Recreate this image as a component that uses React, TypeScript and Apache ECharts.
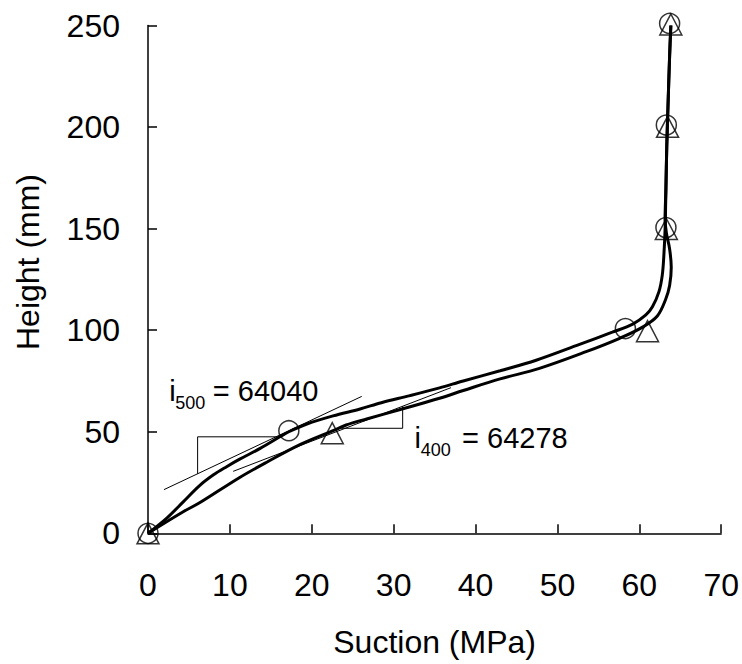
import { useEffect, useRef } from "react";
import * as echarts from "echarts";

const FONT = '"Liberation Sans", Arial, Helvetica, sans-serif';

// Smoothed profile curves (suction MPa, height mm)
const curveASuction = [0, 2.3, 4.3, 6.3, 8.0, 9.6, 11.2, 13.7, 16.1, 17.2, 19.4, 22.6, 25.9, 28.5, 32.0, 35.6, 38.5, 43.0, 47.4, 52.7, 56.7, 59.2, 60.8, 61.6, 62.4, 62.8, 63.0, 63.15, 63.25, 63.35, 63.5, 63.7, 63.85];
const curveAHeight = [0, 7.5, 15.5, 23.5, 28.8, 32.8, 36.5, 41.8, 47.5, 50.0, 53.8, 57.8, 61.2, 64.3, 67.8, 71.6, 75.0, 80.0, 85.2, 93.0, 99.0, 103.0, 107.5, 111.5, 119.0, 127.0, 137.0, 150.0, 170.0, 190.0, 210.0, 235.0, 250.0];

const curveBSuction = [0, 4.3, 6.3, 11.2, 14.5, 18.5, 22.6, 24.2, 26.7, 30.7, 35.6, 38.5, 43.0, 47.8, 53.5, 57.6, 60.4, 62.2, 63.2, 63.7, 63.9, 63.7, 63.3, 63.15, 63.25, 63.35, 63.5, 63.7, 63.85];
const curveBHeight = [0, 10.6, 15.0, 27.5, 35.0, 43.5, 50.5, 53.3, 56.3, 60.8, 66.5, 70.3, 76.0, 81.2, 89.4, 96.0, 101.5, 107.0, 115.0, 122.0, 131.0, 140.0, 148.0, 155.0, 170.0, 190.0, 210.0, 235.0, 250.0];

// Measured points
const circleSuction = [0, 17.2, 58.3, 63.25, 63.3, 63.7];
const circleHeight = [0, 50.5, 100.8, 150.5, 201.0, 251.0];
const triangleSuction = [0, 22.5, 61.0, 63.3, 63.45, 63.85];
const triangleHeight = [0, 49.3, 99.5, 149.8, 200.1, 250.5];

// Tangent lines and slope brackets
const tangentASuction = [1.95, 26.1];
const tangentAHeight = [21.5, 67.4];
const bracketASuction = [6.06, 6.06, 16.1];
const bracketAHeight = [29.3, 47.5, 47.5];
const tangentBSuction = [10.4, 37.0];
const tangentBHeight = [30.5, 71.7];
const bracketBSuction = [31.1, 31.1, 23.6];
const bracketBHeight = [62.6, 51.7, 51.7];

// Annotation labels: main symbol, subscript, rest; anchor (data coords of baseline-left)
const labelA = { main: "i", sub: "500", rest: "= 64040", at: [2.6, 65.3], subDx: 6.0, restDx: 43.5 };
const labelB = { main: "i", sub: "400", rest: "= 64278", at: [32.55, 41.8], subDx: 6.3, restDx: 47.5 };

const xMin = 0, xMax = 70, xStep = 10;
const yMin = 0, yMax = 250, yStep = 50;

const zip = (a: number[], b: number[]) => a.map((v, i) => [v, b[i]]);

export default function App() {
  const ref = useRef<HTMLDivElement>(null);
  useEffect(() => {
    if (!ref.current) return;
    const chart = echarts.init(ref.current, undefined, { renderer: "svg" });
    const thin = { color: "#000", width: 1 };
    const option: any = {
      animation: false,
      backgroundColor: "#fff",
      grid: { left: 148, right: 20, top: 25.5, bottom: 130.7, containLabel: false },
      xAxis: {
        type: "value", min: xMin, max: xMax, interval: xStep,
        axisLine: { show: true, onZero: false, lineStyle: { color: "#000", width: 1.5 } },
        axisTick: { show: true, inside: true, length: 9, lineStyle: { color: "#000", width: 1.5 } },
        axisLabel: { color: "#000", fontFamily: FONT, fontSize: 32, margin: 36 },
        splitLine: { show: false },
        name: "Suction (MPa)", nameLocation: "middle", nameGap: 93,
        nameTextStyle: { color: "#000", fontFamily: FONT, fontSize: 32 },
      },
      yAxis: {
        type: "value", min: yMin, max: yMax, interval: yStep,
        axisLine: { show: true, onZero: false, lineStyle: { color: "#000", width: 1.5 } },
        axisTick: { show: true, inside: true, length: 9, lineStyle: { color: "#000", width: 1.5 } },
        axisLabel: { color: "#000", fontFamily: FONT, fontSize: 32, margin: 28 },
        splitLine: { show: false },
      },
      series: [
        { type: "line", data: zip(curveASuction, curveAHeight), smooth: 0.35, showSymbol: false, clip: false, lineStyle: { color: "#000", width: 3 }, z: 3 },
        { type: "line", data: zip(curveBSuction, curveBHeight), smooth: 0.35, showSymbol: false, clip: false, lineStyle: { color: "#000", width: 3 }, z: 3 },
        { type: "line", data: zip(tangentASuction, tangentAHeight), showSymbol: false, lineStyle: thin, z: 2 },
        { type: "line", data: zip(bracketASuction, bracketAHeight), showSymbol: false, lineStyle: thin, z: 2 },
        { type: "line", data: zip(tangentBSuction, tangentBHeight), showSymbol: false, lineStyle: thin, z: 2 },
        { type: "line", data: zip(bracketBSuction, bracketBHeight), showSymbol: false, lineStyle: thin, z: 2 },
        { type: "scatter", data: zip(circleSuction, circleHeight), symbol: "circle", symbolSize: 20, clip: false,
          itemStyle: { color: "transparent", borderColor: "#000", borderWidth: 1.5 }, z: 4 },
        { type: "scatter", data: zip(triangleSuction, triangleHeight), symbol: "triangle", symbolSize: [22, 21], clip: false,
          itemStyle: { color: "transparent", borderColor: "#000", borderWidth: 1.5 }, z: 4 },
      ],
    };
    chart.setOption(option);

    const mk = (lab: typeof labelA) => {
      const p = chart.convertToPixel({ xAxisIndex: 0, yAxisIndex: 0 }, lab.at) as number[];
      const base = p[1];
      const txt = (text: string, x: number, baseline: number, size: number) => ({
        type: "text", x, y: baseline - 0.3465 * size, z: 10,
        style: { text, fontFamily: FONT, fontSize: size, fill: "#000", align: "left", verticalAlign: "middle" },
      });
      return [
        txt(lab.main, p[0], base, 29),
        txt(lab.sub, p[0] + lab.subDx, base + 8.3, 18),
        txt(lab.rest, p[0] + lab.restDx, base, 29),
      ];
    };
    chart.setOption({
      graphic: [
        ...mk(labelA),
        ...mk(labelB),
        {
          type: "text", x: 28, y: 262, rotation: Math.PI / 2, z: 10,
          style: { text: "Height (mm)", fontFamily: FONT, fontSize: 32, fill: "#000", align: "center", verticalAlign: "middle" },
        },
      ],
    });
    return () => chart.dispose();
  }, []);
  return <div ref={ref} style={{ position: "fixed", left: 0, top: 0, width: 742, height: 664, background: "#fff" }} />;
}
